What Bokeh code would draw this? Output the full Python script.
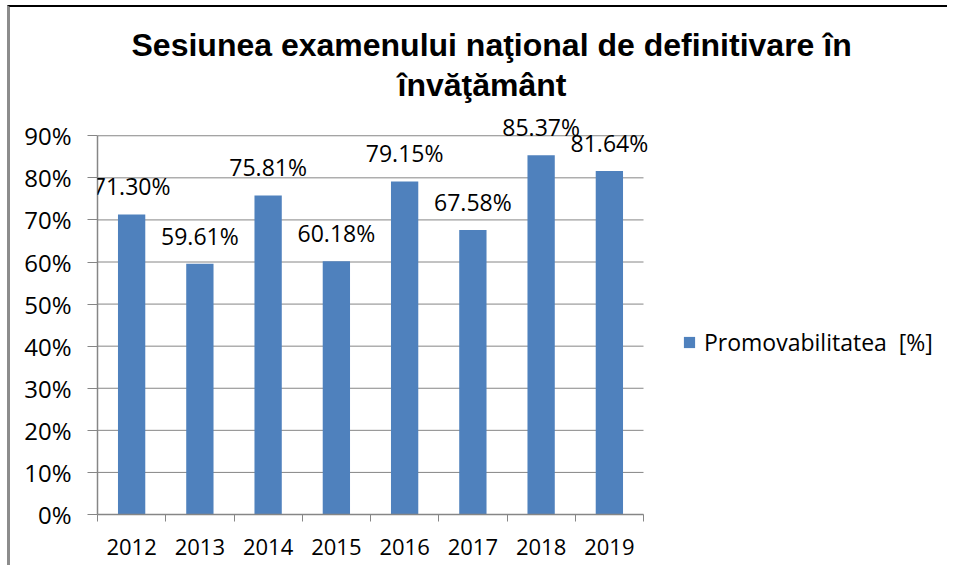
from bokeh.plotting import figure
from bokeh.models import (FixedTicker, Legend, LegendItem, Title, ColumnDataSource, LabelSet)
from bokeh.core.properties import value
from bokeh.embed import file_html
from bokeh.resources import INLINE

years = ["2012", "2013", "2014", "2015", "2016", "2017", "2018", "2019"]
rates = [71.30, 59.61, 75.81, 60.18, 79.15, 67.58, 85.37, 81.64]
y_ticks = [0, 10, 20, 30, 40, 50, 60, 70, 80, 90]
y_tick_labels = ["0%", "10%", "20%", "30%", "40%", "50%", "60%", "70%", "80%", "90%"]
series_name = "Promovabilitatea  [%]"
title_line1 = "Sesiunea examenului naţional de definitivare în"
title_line2 = "învăţământ"

BAR = "#4F81BD"
GRID = "#868686"
FONT = "Open Sans"

W, H = 940, 560
BL, BR, BT, BB = 87, 0, 103, 53
n = len(years)
px_per_cat = 546 / n                   # plot-area width of the category axis
x_end = (W - BL - BR) / px_per_cat     # extra room on the right holds the legend

xs = [i + 0.5 for i in range(n)]
labels = [f"{v:.2f}%" for v in rates]
src = ColumnDataSource(dict(x=xs, top=rates, label=labels))

p = figure(width=W, height=H, output_backend="svg", toolbar_location=None,
           x_range=(0, x_end), y_range=(0, 96),
           min_border_left=BL, min_border_right=BR, min_border_top=BT, min_border_bottom=BB)
p.styles = {"border-left": "3px solid #8c8c8c", "border-top": "2px solid #000000",
            "margin-left": "7px", "margin-top": "5px"}

# horizontal grid lines, only across the category area
p.segment(x0=[0] * len(y_ticks), x1=[n] * len(y_ticks), y0=y_ticks, y1=y_ticks,
          line_color=GRID, line_width=1)

bars = p.vbar(x="x", top="top", width=0.4, source=src, fill_color=BAR, line_color=None)

# axes
p.yaxis.ticker = FixedTicker(ticks=y_ticks)
p.yaxis.bounds = (0, 90)
p.yaxis.major_label_overrides = {t: l for t, l in zip(y_ticks, y_tick_labels)}
p.yaxis.axis_line_color = GRID
p.yaxis.axis_line_width = 1.5
p.yaxis.major_tick_line_color = GRID
p.yaxis.major_tick_in = 0
p.yaxis.major_tick_out = 10
p.yaxis.minor_tick_line_color = None
p.yaxis.major_label_text_font = FONT
p.yaxis.major_label_text_font_size = "24px"
p.yaxis.major_label_text_color = "black"
p.yaxis.major_label_standoff = 16

p.xaxis.ticker = FixedTicker(ticks=xs, minor_ticks=list(range(n + 1)))
p.xaxis.bounds = (0, n)
p.xaxis.major_label_overrides = {x: y for x, y in zip(xs, years)}
p.xaxis.axis_line_color = GRID
p.xaxis.axis_line_width = 1.5
p.xaxis.major_tick_in = 0
p.xaxis.major_tick_out = 0
p.xaxis.minor_tick_in = 0
p.xaxis.minor_tick_out = 7
p.xaxis.minor_tick_line_color = GRID
p.xaxis.major_label_text_font = FONT
p.xaxis.major_label_text_font_size = "22px"
p.xaxis.major_label_text_color = "black"
p.xaxis.major_label_standoff = 17

p.xgrid.visible = False
p.ygrid.visible = False
p.outline_line_color = None

labelset = LabelSet(x="x", y="top", text="label", source=src, text_align="center",
                    text_baseline="alphabetic", y_offset=19, text_font=value(FONT),
                    text_font_size=value("23px"), text_color="black")
p.add_layout(labelset)

legend = Legend(items=[LegendItem(label=series_name, renderers=[bars])],
                location=(585, 156), padding=0, margin=0, glyph_width=14, glyph_height=14,
                label_standoff=8, border_line_color=None, background_fill_alpha=0,
                label_text_font=FONT, label_text_font_size="23px", label_text_color="black")
p.add_layout(legend)

t2 = Title(text=title_line2, align="left", offset=300, text_font="Liberation Sans",
           text_font_size="32px", text_font_style="bold", text_color="black", standoff=16)
t1 = Title(text=title_line1, align="left", offset=34, text_font="Liberation Sans",
           text_font_size="32px", text_font_style="bold", text_color="black", standoff=-12)
p.add_layout(t2, "above")
p.add_layout(t1, "above")

open("out.html", "w").write(file_html(p, INLINE))
